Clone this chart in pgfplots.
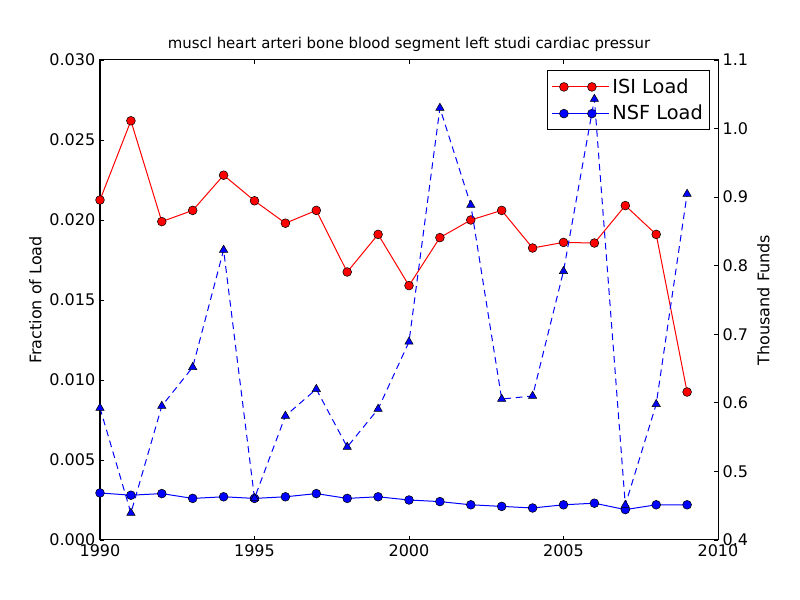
\documentclass[border=0pt]{standalone}
\usepackage{pgfplots}
\pgfplotsset{compat=1.18}
\usepackage{fontspec}
\setmainfont{DejaVu Sans}
\begin{document}
\begin{tikzpicture}[x=1pt,y=1pt]
\path (0,0) rectangle (600,450);
\begin{axis}[
  at={(75pt,45pt)}, anchor=south west, scale only axis,
  width=463.5pt, height=360pt,
  xmin=1990, xmax=2010, ymin=0, ymax=0.03,
  xtick={1990,1995,2000,2005,2010},
  ytick={0,0.005,0.01,0.015,0.02,0.025,0.03},
  xtick pos=both, ytick pos=left, tick align=inside,
  major tick length=3.3pt,
  axis line style={line width=0.75pt}, tick style={line width=0.6pt, black},
  /pgf/number format/assume math mode=true,
  x tick label style={/pgf/number format/1000 sep={}, font=\fontsize{12}{14}\selectfont},
  y tick label style={/pgf/number format/.cd, fixed, fixed zerofill, precision=3, /tikz/.cd, font=\fontsize{12}{14}\selectfont},
  scaled y ticks=false,
  ylabel={Fraction of Load},
  ylabel style={font=\fontsize{12}{14}\selectfont, yshift=-1pt},
  title={muscl heart arteri bone blood segment left studi cardiac pressur},
  title style={font=\fontsize{11.2}{13}\selectfont, yshift=-3pt},
  legend style={at={(0.987,0.979)}, anchor=north east, draw=black, line width=0.75pt,
    font=\fontsize{14.5}{17}\selectfont, row sep=3.5pt, inner xsep=3pt, inner ysep=4pt},
  legend cell align=left,
  legend image code/.code={\path (-9pt,0pt) -- (34pt,0pt);\draw[#1] plot coordinates {(0pt,0pt) (21pt,0pt)};},
]
\addplot[red, line width=0.75pt, mark=*, mark size=3.3pt, mark options={fill=red, draw=black, line width=0.4pt}]
coordinates {
(1990,0.02125)(1991,0.0262)(1992,0.0199)(1993,0.0206)(1994,0.0228)
(1995,0.0212)(1996,0.0198)(1997,0.0206)(1998,0.01675)(1999,0.0191)
(2000,0.0159)(2001,0.0189)(2002,0.0200)(2003,0.0206)(2004,0.01825)
(2005,0.0186)(2006,0.01856)(2007,0.0209)(2008,0.0191)(2009,0.00925)};
\addlegendentry{ISI Load}
\addplot[blue, line width=0.75pt, mark=*, mark size=3.3pt, mark options={fill=blue, draw=black, line width=0.4pt}]
coordinates {
(1990,0.00294)(1991,0.0028)(1992,0.0029)(1993,0.0026)(1994,0.0027)
(1995,0.0026)(1996,0.0027)(1997,0.0029)(1998,0.0026)(1999,0.0027)
(2000,0.0025)(2001,0.0024)(2002,0.0022)(2003,0.0021)(2004,0.0020)
(2005,0.0022)(2006,0.0023)(2007,0.0019)(2008,0.0022)(2009,0.0022)};
\addlegendentry{NSF Load}
\end{axis}
\begin{axis}[
  at={(75pt,45pt)}, anchor=south west, scale only axis,
  width=463.5pt, height=360pt,
  xmin=1990, xmax=2010, ymin=0.4, ymax=1.1,
  axis x line=none, axis y line*=right,
  ytick={0.4,0.5,0.6,0.7,0.8,0.9,1.0,1.1},
  tick align=inside, major tick length=3.3pt,
  axis line style={line width=0.75pt, -}, tick style={line width=0.6pt, black},
  /pgf/number format/assume math mode=true,
  y tick label style={/pgf/number format/.cd, fixed, fixed zerofill, precision=1, /tikz/.cd, font=\fontsize{12}{14}\selectfont},
  ylabel={Thousand Funds},
  ylabel style={font=\fontsize{12}{14}\selectfont},
]
\addplot[blue, line width=0.75pt, dash pattern=on 5pt off 3.5pt, mark=triangle*, mark size=3.6pt, mark options={solid, fill=blue, draw=black, line width=0.4pt}]
coordinates {
(1990,0.5925)(1991,0.4394)(1992,0.5954)(1993,0.652)(1994,0.823)
(1995,0.461)(1996,0.581)(1997,0.620)(1998,0.5356)(1999,0.591)
(2000,0.689)(2001,1.030)(2002,0.8885)(2003,0.6056)(2004,0.610)
(2005,0.792)(2006,1.043)(2007,0.451)(2008,0.598)(2009,0.9046)};
\end{axis}
\end{tikzpicture}
\end{document}
